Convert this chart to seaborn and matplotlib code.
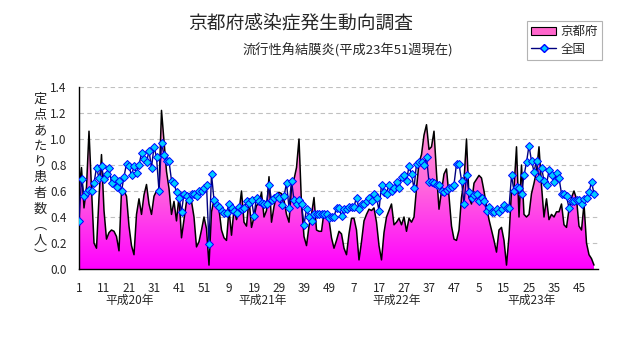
import numpy as np
import pandas as pd
import matplotlib
matplotlib.use("Agg")
import matplotlib.pyplot as plt
import seaborn as sns
from matplotlib.patches import Patch
from matplotlib.lines import Line2D
from matplotlib.colors import LinearSegmentedColormap

# ---------------- data ----------------
kyoto = [
    0.62, 0.78, 0.47, 0.63, 1.06, 0.62, 0.20, 0.16, 0.55, 0.88,
    0.45, 0.23, 0.28, 0.30, 0.29, 0.25, 0.14, 0.60, 0.60, 0.56,
    0.33, 0.18, 0.11, 0.42, 0.54, 0.42, 0.57, 0.65, 0.50, 0.42,
    0.56, 0.60, 0.62, 1.22, 0.98, 0.75, 0.62, 0.42, 0.52, 0.37,
    0.56, 0.24, 0.38, 0.52, 0.57, 0.52, 0.40, 0.17, 0.21, 0.30,
    0.40, 0.31, 0.03, 0.44, 0.53, 0.52, 0.46, 0.30, 0.24, 0.22,
    0.46, 0.26, 0.46, 0.38, 0.44, 0.60, 0.36, 0.33, 0.54, 0.32,
    0.40, 0.49, 0.50, 0.59, 0.40, 0.45, 0.71, 0.36, 0.48, 0.56,
    0.59, 0.58, 0.53, 0.42, 0.36, 0.63, 0.69, 0.78, 1.00, 0.50,
    0.25, 0.18, 0.33, 0.42, 0.55, 0.30, 0.29, 0.29, 0.44, 0.41,
    0.38, 0.24, 0.16, 0.22, 0.29, 0.27, 0.16, 0.11, 0.27, 0.39,
    0.39, 0.30, 0.07, 0.21, 0.37, 0.42, 0.46, 0.45, 0.47, 0.36,
    0.18, 0.07, 0.28, 0.40, 0.45, 0.50, 0.34, 0.36, 0.39, 0.34,
    0.40, 0.29, 0.39, 0.36, 0.40, 0.62, 0.82, 0.88, 1.03, 1.11,
    0.92, 0.94, 1.06, 0.74, 0.46, 0.60, 0.73, 0.77, 0.56, 0.33,
    0.23, 0.22, 0.30, 0.55, 0.68, 1.00, 0.55, 0.50, 0.66, 0.69,
    0.72, 0.70, 0.60, 0.48, 0.38, 0.30, 0.22, 0.13, 0.30, 0.32,
    0.22, 0.03, 0.25, 0.60, 0.62, 0.94, 0.40, 0.80, 0.42, 0.40,
    0.42, 0.58, 0.66, 0.75, 0.94, 0.64, 0.40, 0.54, 0.38, 0.42,
    0.40, 0.44, 0.44, 0.50, 0.34, 0.32, 0.46, 0.55, 0.60, 0.54,
    0.33, 0.30, 0.50, 0.20, 0.11, 0.08, 0.03,
]

national = [
    0.37, 0.69, 0.56, 0.59, 0.61, 0.60, 0.66, 0.78, 0.70, 0.79,
    0.69, 0.73, 0.78, 0.66, 0.70, 0.63, 0.68, 0.60, 0.71, 0.81,
    0.79, 0.72, 0.79, 0.74, 0.80, 0.89, 0.85, 0.82, 0.91, 0.78,
    0.94, 0.86, 0.60, 0.97, 0.88, 0.83, 0.83, 0.68, 0.66, 0.59,
    0.55, 0.44, 0.58, 0.56, 0.53, 0.58, 0.58, 0.56, 0.60, 0.60,
    0.62, 0.65, 0.19, 0.73, 0.53, 0.49, 0.48, 0.45, 0.43, 0.43,
    0.50, 0.47, 0.45, 0.43, 0.48, 0.46, 0.47, 0.52, 0.51, 0.53,
    0.41, 0.55, 0.52, 0.51, 0.50, 0.50, 0.65, 0.53, 0.55, 0.56,
    0.55, 0.49, 0.56, 0.66, 0.47, 0.68, 0.53, 0.50, 0.53, 0.50,
    0.34, 0.46, 0.40, 0.37, 0.42, 0.42, 0.42, 0.42, 0.42, 0.42,
    0.39, 0.40, 0.40, 0.47, 0.47, 0.41, 0.46, 0.46, 0.48, 0.48,
    0.48, 0.55, 0.46, 0.50, 0.50, 0.52, 0.55, 0.52, 0.58, 0.55,
    0.45, 0.65, 0.59, 0.58, 0.65, 0.60, 0.62, 0.67, 0.62, 0.71,
    0.72, 0.68, 0.79, 0.73, 0.62, 0.81, 0.82, 0.82, 0.80, 0.86,
    0.67, 0.67, 0.66, 0.65, 0.65, 0.60, 0.59, 0.61, 0.62, 0.63,
    0.65, 0.81, 0.81, 0.68, 0.50, 0.72, 0.59, 0.55, 0.57, 0.58,
    0.52, 0.55, 0.52, 0.45, 0.48, 0.44, 0.44, 0.46, 0.44, 0.46,
    0.49, 0.47, 0.47, 0.72, 0.60, 0.63, 0.62, 0.58, 0.72, 0.82,
    0.95, 0.83, 0.75, 0.83, 0.70, 0.78, 0.68, 0.65, 0.76, 0.72,
    0.67, 0.74, 0.70, 0.58, 0.58, 0.56, 0.47, 0.52, 0.52, 0.53,
    0.53, 0.50, 0.54, 0.55, 0.59, 0.67, 0.58,
]

tick_labels = ["1", "11", "21", "31", "41", "51", "9", "19", "29", "39", "49",
               "7", "17", "27", "37", "47", "5", "15", "25", "35", "45"]
year_labels = ["平成20年", "平成21年", "平成22年", "平成23年"]
series_names = ["京都府", "全国"]
title = "京都府感染症発生動向調査"
subtitle = "流行性角結膜炎(平成23年51週現在)"
ylabel = "定点あたり患者数︵人︶"

weeks = np.arange(1, len(kyoto) + 1)
df = pd.DataFrame({"week": weeks, "kyoto": kyoto, "national": national})

# ---------------- style ----------------
sns.set_style("white")
plt.rcParams["font.family"] = ["Noto Sans CJK JP", "DejaVu Sans"]

W, H = 632, 348
fig = plt.figure(figsize=(W / 100, H / 100), dpi=100)
ax = fig.add_axes([79 / W, 1 - 269 / H, (598 - 79) / W, 182 / H])

# gradient-filled area for Kyoto
poly = ax.fill_between(df["week"], 0, df["kyoto"], facecolor="none",
                       edgecolor="none", zorder=2)
grad = np.linspace(0, 1, 256).reshape(-1, 1)
cmap = LinearSegmentedColormap.from_list("pk", ["#ff00ff", "#ff66dd", "#ffa0d0"])
im = ax.imshow(grad, extent=[1, len(kyoto), 0, 1.25], origin="lower",
               aspect="auto", cmap=cmap, zorder=2, interpolation="bilinear")
im.set_clip_path(poly.get_paths()[0], ax.transData)

sns.lineplot(data=df, x="week", y="kyoto", color="black", lw=1.1, ax=ax,
             zorder=3)
sns.lineplot(data=df, x="week", y="national", color="#000080", lw=1.0,
             marker="D", markersize=3.8, markerfacecolor="#00ccff",
             markeredgecolor="#0000ff", markeredgewidth=0.7, ax=ax, zorder=4)

ax.set_xlim(1, 208.6)
ax.set_ylim(0, 1.4)
ax.set_xlabel("")
ax.set_ylabel("")

yt = np.round(np.arange(0, 1.41, 0.2), 1)
ax.set_yticks(yt)
ax.set_yticklabels([f"{v:.1f}" for v in yt], fontsize=8.5)
ax.yaxis.grid(True, color="#c0c0c0", linestyle=(0, (4, 3)), lw=0.8)
ax.set_axisbelow(True)

major = np.arange(1, len(kyoto) + 1, 10)[: len(tick_labels)]
minor = np.arange(6, len(kyoto) + 1, 10)
ax.set_xticks(major)
ax.set_xticklabels(tick_labels, fontsize=8.5)
ax.set_xticks(minor, minor=True)
ax.tick_params(axis="x", which="both", direction="out", length=4, width=1,
               color="black", pad=5)
ax.tick_params(axis="y", direction="out", length=3, width=1, color="black",
               pad=6)

for s in ["top", "right"]:
    ax.spines[s].set_visible(False)
for s in ["left", "bottom"]:
    ax.spines[s].set_color("black")
    ax.spines[s].set_linewidth(1.0)

# year labels
for lab, px in zip(year_labels, [130, 263, 397, 532]):
    fig.text(px / W, 1 - 300 / H, lab, ha="center", va="center", fontsize=8.5)

# titles
fig.text(301 / W, 1 - 23 / H, title, ha="center", va="center", fontsize=13.5)
fig.text(348 / W, 1 - 50 / H, subtitle, ha="center", va="center", fontsize=9.5)

# vertical y label
fig.text(40 / W, 1 - 178 / H, "\n".join(ylabel), ha="center", va="center",
         fontsize=9.5, linespacing=1.28)

# legend
handles = [
    Patch(facecolor="#ff66cc", edgecolor="black", lw=0.8),
    Line2D([0], [0], color="#000080", lw=1.0, marker="D", markersize=3.8,
           markerfacecolor="#00ccff", markeredgecolor="#0000ff"),
]
leg = fig.legend(handles, series_names, loc="upper left",
                 bbox_to_anchor=(527 / W, 1 - 21 / H), fontsize=9,
                 frameon=True, fancybox=False, borderpad=0.35,
                 handlelength=2.0, handletextpad=0.3, labelspacing=0.35,
                 borderaxespad=0)
leg.get_frame().set_edgecolor("#a0a0a0")
leg.get_frame().set_linewidth(0.8)

fig.savefig("out.png", dpi=100)
